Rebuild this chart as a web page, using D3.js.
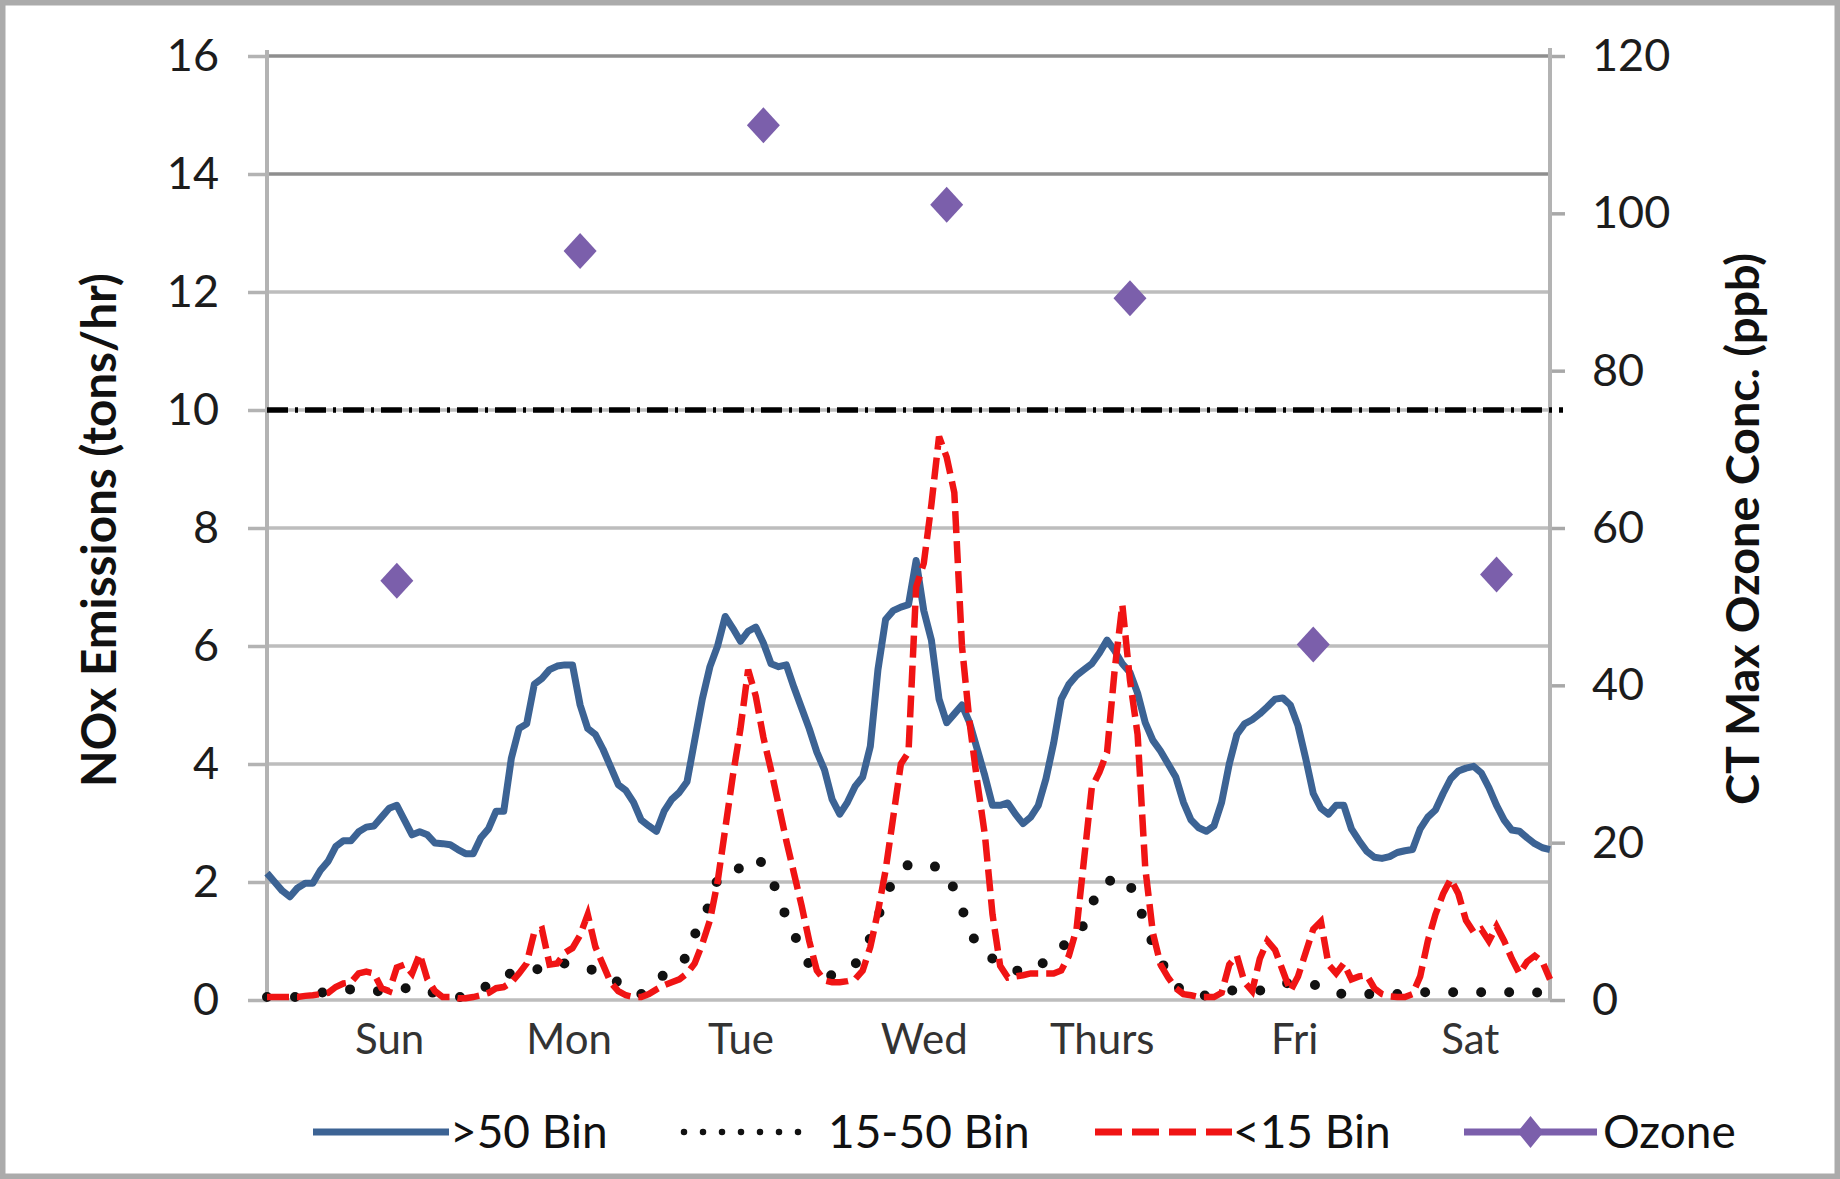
<!DOCTYPE html>
<html>
<head>
<meta charset="utf-8">
<script src="https://cdn.jsdelivr.net/npm/d3@7"></script>
<style>
  html, body { margin: 0; padding: 0; background: #fff; }
  svg { display: block; }
  text { font-family: Lato, "Open Sans", "Liberation Sans", sans-serif; }
</style>
</head>
<body>
<svg id="chart" width="1840" height="1179"></svg>
<script>
// Weekly hourly NOx emissions by bin (tons/hr), hour 0 = Sunday 00:00
const days = ["Sun", "Mon", "Tue", "Wed", "Thurs", "Fri", "Sat"];
const dayLabelHours = [16, 39.5, 62, 86, 109.3, 134.5, 157.5];

const binOver50 = [
  2.15, 2.0, 1.85, 1.75, 1.9, 1.98, 1.98, 2.2, 2.35, 2.6,
  2.7, 2.7, 2.85, 2.93, 2.95, 3.1, 3.25, 3.3, 3.05, 2.8,
  2.85, 2.8, 2.66, 2.65, 2.63, 2.55, 2.48, 2.48, 2.75, 2.9,
  3.2, 3.2, 4.1, 4.6, 4.68, 5.35, 5.45, 5.6, 5.66, 5.68,
  5.68, 5.0, 4.6, 4.5, 4.25, 3.95, 3.65, 3.55, 3.35, 3.05,
  2.95, 2.86, 3.2, 3.4, 3.52, 3.7, 4.4, 5.1, 5.65, 6.0,
  6.5, 6.3, 6.08, 6.25, 6.32, 6.05, 5.7, 5.65, 5.68, 5.3,
  4.95, 4.6, 4.2, 3.9, 3.4, 3.15, 3.35, 3.62, 3.78, 4.3,
  5.6, 6.45, 6.6, 6.66, 6.7, 7.45, 6.6, 6.1, 5.1, 4.7,
  4.85, 5.0, 4.7, 4.25, 3.8, 3.3, 3.3, 3.34, 3.15, 2.99,
  3.1, 3.3, 3.75, 4.35, 5.1, 5.35, 5.5, 5.6, 5.7, 5.88,
  6.1, 5.92, 5.7, 5.55, 5.2, 4.7, 4.4, 4.22, 4.0, 3.78,
  3.35, 3.05, 2.92, 2.86, 2.95, 3.35, 4.0, 4.5, 4.68, 4.75,
  4.85, 4.97, 5.1, 5.12, 5.0, 4.65, 4.1, 3.5, 3.25, 3.15,
  3.3, 3.3, 2.9, 2.7, 2.52, 2.42, 2.4, 2.43, 2.5, 2.53,
  2.55, 2.9, 3.1, 3.22, 3.5, 3.75, 3.88, 3.93, 3.96, 3.85,
  3.6, 3.3, 3.05, 2.88, 2.86, 2.75, 2.65, 2.58, 2.55
];

const bin15to50 = [
  0.05, 0.05, 0.05, 0.05, 0.05, 0.05, 0.08, 0.12, 0.15, 0.15,
  0.18, 0.18, 0.18, 0.17, 0.15, 0.15, 0.15, 0.18, 0.2, 0.2,
  0.2, 0.18, 0.1, 0.08, 0.06, 0.05, 0.05, 0.1, 0.18, 0.25,
  0.35, 0.42, 0.45, 0.47, 0.48, 0.5, 0.55, 0.6, 0.62, 0.62,
  0.58, 0.55, 0.53, 0.5, 0.42, 0.36, 0.3, 0.2, 0.13, 0.1,
  0.2, 0.32, 0.43, 0.55, 0.65, 0.72, 1.1, 1.4, 1.62, 2.05,
  2.15, 2.15, 2.25, 2.38, 2.42, 2.3, 2.08, 1.75, 1.4, 1.12,
  0.85, 0.6, 0.45, 0.42, 0.42, 0.45, 0.52, 0.6, 0.8, 1.05,
  1.4, 1.8, 2.0, 2.15, 2.3, 2.3, 2.28, 2.27, 2.25, 2.1,
  1.88, 1.55, 1.2, 0.92, 0.78, 0.7, 0.62, 0.55, 0.5, 0.49,
  0.49, 0.55, 0.68, 0.8, 0.9, 0.98, 1.04, 1.3, 1.6, 1.95,
  2.0, 2.05, 2.1, 1.95, 1.65, 1.3, 0.95, 0.7, 0.4, 0.24,
  0.15, 0.08, 0.06, 0.08, 0.1, 0.14, 0.16, 0.16, 0.16, 0.16,
  0.16, 0.2, 0.25, 0.28, 0.29, 0.28, 0.26, 0.26, 0.24, 0.18,
  0.12, 0.1, 0.1, 0.1, 0.1, 0.1, 0.1, 0.1, 0.1, 0.1,
  0.12, 0.13, 0.13, 0.13, 0.13, 0.13, 0.13, 0.13, 0.13, 0.13,
  0.13, 0.13, 0.13, 0.13, 0.13, 0.13, 0.13, 0.12, 0.12
];

const binUnder15 = [
  0.05, 0.05, 0.05, 0.05, 0.05, 0.07, 0.08, 0.1, 0.12, 0.22,
  0.28, 0.3, 0.45, 0.48, 0.45, 0.2, 0.15, 0.55, 0.6, 0.45,
  0.78, 0.35, 0.15, 0.05, 0.05, 0.03, 0.03, 0.05, 0.08, 0.12,
  0.2, 0.22, 0.3, 0.45, 0.62, 1.15, 1.2, 0.6, 0.62, 0.8,
  0.88, 1.1, 1.45, 0.9, 0.6, 0.3, 0.15, 0.08, 0.05, 0.05,
  0.1, 0.18, 0.25, 0.3, 0.35, 0.45, 0.62, 0.95, 1.35, 2.0,
  2.9, 3.8, 4.6, 5.6, 5.15, 4.45, 3.9, 3.3, 2.7, 2.15,
  1.6, 1.0, 0.5, 0.33, 0.3, 0.3, 0.32, 0.35, 0.5, 0.9,
  1.5, 2.2, 3.1, 4.0, 4.2, 7.0, 7.4, 8.4, 9.55, 9.2,
  8.6, 6.0, 4.7, 3.7, 2.8, 1.45, 0.58, 0.38, 0.4, 0.42,
  0.45, 0.45, 0.45, 0.45, 0.5, 0.75, 1.2, 2.4, 3.6, 3.86,
  4.2, 5.6, 6.7, 5.42, 4.5, 2.24, 1.14, 0.6, 0.38, 0.2,
  0.1, 0.08, 0.05, 0.05, 0.05, 0.12, 0.6, 0.75, 0.3, 0.15,
  0.7, 1.0, 0.85, 0.5, 0.15, 0.4, 0.8, 1.2, 1.33, 0.6,
  0.45, 0.62, 0.35, 0.4, 0.42, 0.2, 0.1, 0.06, 0.05, 0.05,
  0.1, 0.4, 1.0, 1.45, 1.8, 2.05, 1.8, 1.35, 1.15, 1.2,
  1.0, 1.25, 1.0, 0.7, 0.45, 0.65, 0.75, 0.65, 0.35
];

// Daily CT maximum ozone (ppb), plotted at 17:00 of each day
const ozone = [53.3, 95.2, 111.2, 101.1, 89.2, 45.2, 54.1];
const ozoneHourOfDay = 17;
const ozoneStandard = 75;

const leftTicks = [0, 2, 4, 6, 8, 10, 12, 14, 16];
const rightTicks = [0, 20, 40, 60, 80, 100, 120];
const seriesNames = [">50 Bin", "15-50 Bin", "<15 Bin", "Ozone"];

const colors = { big: "#3c6394", mid: "#111111", small: "#f01414", ozone: "#7b5fab" };

const svg = d3.select("#chart");
const plot = { left: 267, right: 1550, top: 56, bottom: 1000 };

const x = d3.scaleLinear().domain([0, 168]).range([plot.left, plot.right]);
const yL = d3.scaleLinear().domain([0, 16]).range([plot.bottom, plot.top]);
const yR = d3.scaleLinear().domain([0, 120]).range([plot.bottom, plot.top]);

svg.append("rect").attr("width", 1840).attr("height", 1179).attr("fill", "#fff");

// horizontal gridlines
svg.append("g").selectAll("line").data(leftTicks).join("line")
  .attr("x1", plot.left).attr("x2", plot.right)
  .attr("y1", d => yL(d)).attr("y2", d => yL(d))
  .attr("stroke", d => d >= 14 ? "#8e8e8e" : "#bdbdbd")
  .attr("stroke-width", 3.5);

// left value axis
const gL = svg.append("g").attr("transform", `translate(${plot.left},0)`)
  .call(d3.axisLeft(yL).tickValues(leftTicks).tickSizeInner(19).tickSizeOuter(0).tickPadding(29));
gL.select(".domain").remove();
gL.selectAll(".tick line").attr("stroke", "#b3b3b3").attr("stroke-width", 3.5);
gL.selectAll(".tick text").attr("font-size", 45).attr("fill", "#1c1c1c");

// right value axis
const gR = svg.append("g").attr("transform", `translate(${plot.right},0)`)
  .call(d3.axisRight(yR).tickValues(rightTicks).tickSizeInner(15).tickSizeOuter(0).tickPadding(27));
gR.select(".domain").remove();
gR.selectAll(".tick line").attr("stroke", "#a8a8a8").attr("stroke-width", 3.5);
gR.selectAll(".tick text").attr("font-size", 45).attr("fill", "#1c1c1c");

// axis spines
svg.append("line").attr("x1", plot.left).attr("x2", plot.left).attr("y1", 50).attr("y2", plot.bottom)
  .attr("stroke", "#b3b3b3").attr("stroke-width", 4);
svg.append("line").attr("x1", plot.right).attr("x2", plot.right).attr("y1", 48).attr("y2", plot.bottom)
  .attr("stroke", "#b3b3b3").attr("stroke-width", 4);

// day labels
const gX = svg.append("g").attr("transform", `translate(0,${plot.bottom})`)
  .call(d3.axisBottom(x).tickValues(dayLabelHours).tickFormat((d, i) => days[i]).tickSize(0).tickPadding(24));
gX.select(".domain").remove();
gX.selectAll(".tick text").attr("font-size", 42).attr("fill", "#333");

// ozone standard reference line
svg.append("line")
  .attr("x1", plot.left).attr("x2", plot.right + 13)
  .attr("y1", yR(ozoneStandard)).attr("y2", yR(ozoneStandard))
  .attr("stroke", "#000").attr("stroke-width", 5.5)
  .attr("stroke-dasharray", "21,7,3,7");

const line = d3.line().x((d, i) => x(i)).y(d => yL(d));

svg.append("path").datum(binOver50).attr("d", line)
  .attr("fill", "none").attr("stroke", colors.big).attr("stroke-width", 7)
  .attr("stroke-linejoin", "round");

svg.append("path").datum(bin15to50).attr("d", line)
  .attr("fill", "none").attr("stroke", colors.mid).attr("stroke-width", 10)
  .attr("stroke-linecap", "round").attr("stroke-dasharray", "0,28");

svg.append("path").datum(binUnder15).attr("d", line)
  .attr("fill", "none").attr("stroke", colors.small).attr("stroke-width", 6.5)
  .attr("stroke-dasharray", "22,8");

const diamond = "M0,-18L16.5,0L0,18L-16.5,0Z";
svg.append("g").selectAll("path").data(ozone).join("path")
  .attr("d", diamond)
  .attr("transform", (d, i) => `translate(${x(i * 24 + ozoneHourOfDay)},${yR(d)})`)
  .attr("fill", colors.ozone);

// axis titles, scaled to their span
function fitLength(sel, target) {
  const fs = +sel.attr("font-size");
  const len = sel.node().getComputedTextLength();
  sel.attr("font-size", fs * target / len);
}
const tL = svg.append("text")
  .attr("transform", "translate(116,530) rotate(-90)")
  .attr("text-anchor", "middle").attr("font-size", 46).attr("font-weight", 700)
  .attr("fill", "#111").text("NOx Emissions (tons/hr)");
fitLength(tL, 514);
const tR = svg.append("text")
  .attr("transform", "translate(1759,529) rotate(-90)")
  .attr("text-anchor", "middle").attr("font-size", 46).attr("font-weight", 700)
  .attr("fill", "#111").text("CT Max Ozone Conc. (ppb)");
fitLength(tR, 552);

// legend
const legY = 1132;
const leg = svg.append("g");
const legSpots = [
  { x0: 313, x1: 449, tx: 450 },
  { x0: 684, x1: 801, tx: 828 },
  { x0: 1095, x1: 1232, tx: 1233 },
  { x0: 1464, x1: 1597, tx: 1603 }
];
const legStyles = [
  { stroke: colors.big, width: 7, dash: null, cap: "butt" },
  { stroke: colors.mid, width: 6.5, dash: "0,19", cap: "round" },
  { stroke: colors.small, width: 7, dash: "27,10", cap: "butt" },
  { stroke: colors.ozone, width: 7, dash: null, cap: "butt" }
];
seriesNames.forEach((name, i) => {
  const p = legSpots[i], s = legStyles[i];
  leg.append("line").attr("x1", p.x0).attr("x2", p.x1).attr("y1", legY).attr("y2", legY)
    .attr("stroke", s.stroke).attr("stroke-width", s.width)
    .attr("stroke-linecap", s.cap).attr("stroke-dasharray", s.dash);
  if (name === "Ozone") {
    leg.append("path").attr("d", "M0,-16L13,0L0,16L-13,0Z")
      .attr("transform", `translate(${(p.x0 + p.x1) / 2},${legY})`).attr("fill", colors.ozone);
  }
  leg.append("text").attr("x", p.tx).attr("y", legY).attr("dy", "0.35em")
    .attr("font-size", 46).attr("fill", "#111").text(name);
});

// outer frame
svg.append("rect").attr("x", 2.5).attr("y", 2.5).attr("width", 1835).attr("height", 1174)
  .attr("fill", "none").attr("stroke", "#ababab").attr("stroke-width", 6);
</script>
</body>
</html>
